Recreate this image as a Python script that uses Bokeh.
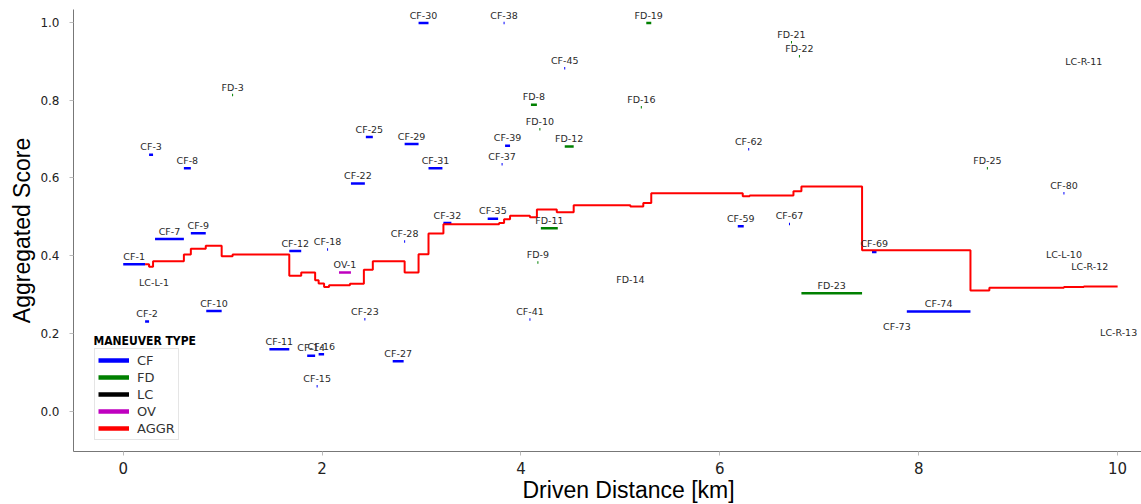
from bokeh.plotting import figure
from bokeh.models import (ColumnDataSource, Legend, LegendItem, Label, FixedTicker,
                          PrintfTickFormatter, Range1d, Title)
from bokeh.core.properties import value
from bokeh.embed import file_html
from bokeh.resources import INLINE

# ---------------- data ----------------
cf_names = ["CF-1", "CF-2", "CF-3", "CF-7", "CF-8", "CF-9", "CF-10", "CF-11", "CF-12",
            "CF-14", "CF-15", "CF-16", "CF-18", "CF-22", "CF-23", "CF-25", "CF-27",
            "CF-28", "CF-29", "CF-30", "CF-31", "CF-32", "CF-35", "CF-37", "CF-38",
            "CF-39", "CF-41", "CF-45", "CF-59", "CF-62", "CF-67", "CF-69", "CF-73",
            "CF-74", "CF-80"]
cf_start = [0.00, 0.22, 0.26, 0.32, 0.61, 0.68, 0.835, 1.47, 1.67,
            1.85, 1.945, 1.965, 2.05, 2.29, 2.425, 2.44, 2.71,
            2.825, 2.83, 2.97, 3.07, 3.22, 3.665, 3.805, 3.825,
            3.84, 4.085, 4.435, 6.18, 6.285, 6.695, 7.53, 7.78,
            7.88, 9.455]
cf_end = [0.22, 0.26, 0.30, 0.61, 0.68, 0.83, 0.99, 1.67, 1.79,
          1.93, 1.955, 2.02, 2.06, 2.43, 2.435, 2.51, 2.82,
          2.835, 2.97, 3.07, 3.21, 3.30, 3.77, 3.815, 3.835,
          3.89, 4.095, 4.445, 6.24, 6.295, 6.705, 7.575, 7.78,
          8.52, 9.465]
cf_score = [0.378, 0.231, 0.660, 0.443, 0.625, 0.458, 0.258, 0.160, 0.412,
            0.143, 0.065, 0.147, 0.416, 0.586, 0.237, 0.705, 0.129,
            0.437, 0.687, 0.998, 0.625, 0.484, 0.495, 0.635, 0.998,
            0.683, 0.236, 0.882, 0.476, 0.674, 0.482, 0.410, 0.197,
            0.257, 0.561]

fd_names = ["FD-3", "FD-8", "FD-9", "FD-10", "FD-11", "FD-12", "FD-14", "FD-16",
            "FD-19", "FD-21", "FD-22", "FD-23", "FD-25"]
fd_start = [1.095, 4.10, 4.165, 4.185, 4.20, 4.44, 5.10, 5.205, 5.26, 6.715, 6.795, 6.82, 8.685]
fd_end = [1.105, 4.16, 4.175, 4.195, 4.37, 4.53, 5.10, 5.215, 5.31, 6.725, 6.805, 7.43, 8.695]
fd_score = [0.813, 0.788, 0.383, 0.725, 0.471, 0.681, 0.319, 0.782, 0.998, 0.949, 0.913, 0.304, 0.625]

lc_names = ["LC-L-1", "LC-L-10", "LC-R-11", "LC-R-12", "LC-R-13"]
lc_start = [0.31, 9.46, 9.66, 9.72, 10.01]
lc_end = [0.31, 9.46, 9.66, 9.72, 10.01]
lc_score = [0.311, 0.382, 0.878, 0.352, 0.183]

ov_names = ["OV-1"]
ov_start = [2.17]
ov_end = [2.29]
ov_score = [0.357]

aggr_x = [0.22, 0.26, 0.30, 0.61, 0.68, 0.83, 0.99, 1.10, 1.67, 1.79, 1.93, 1.965,
          2.02, 2.07, 2.28, 2.42, 2.51, 2.83, 2.97, 3.07, 3.22, 3.78, 3.83, 3.89,
          4.09, 4.16, 4.36, 4.53, 5.10, 5.23, 5.31, 6.23, 6.30, 6.74, 6.82, 7.43,
          8.52, 8.71, 9.46, 9.66, 10.0]
aggr_y = [0.378, 0.372, 0.386, 0.403, 0.418, 0.426, 0.399, 0.403, 0.349, 0.357, 0.337, 0.329,
          0.320, 0.324, 0.328, 0.364, 0.386, 0.357, 0.404, 0.457, 0.481, 0.484, 0.494, 0.503,
          0.499, 0.519, 0.512, 0.530, 0.527, 0.536, 0.561, 0.553, 0.555, 0.566, 0.578, 0.414,
          0.311, 0.318, 0.320, 0.321, 0.321]

x_ticks = [0, 2, 4, 6, 8, 10]
y_ticks = [0.0, 0.2, 0.4, 0.6, 0.8, 1.0]

type_labels = ["CF", "FD", "LC", "OV", "AGGR"]
type_colors = ["#0000ff", "#008000", "#000000", "#bf00bf", "#ff0000"]

# ---------------- figure ----------------
p = figure(width=1141, height=504, output_backend="svg", toolbar_location=None,
           x_range=Range1d(-0.50, 10.24), y_range=Range1d(-0.103, 1.033),
           min_border_left=73, min_border_right=0, min_border_top=9, min_border_bottom=53)
p.outline_line_color = None
p.xgrid.visible = False
p.ygrid.visible = False
p.background_fill_color = "white"
p.border_fill_color = "white"

for ax in (p.xaxis[0], p.yaxis[0]):
    ax.axis_line_color = "#777777"
    ax.axis_line_width = 1
    ax.major_tick_line_color = "#bbbbbb"
    ax.major_tick_out = 4
    ax.major_tick_in = 0
    ax.minor_tick_line_color = None
    ax.major_label_text_color = "#222222"
    ax.major_label_text_font = "DejaVu Sans"

p.xaxis.ticker = FixedTicker(ticks=x_ticks)
p.yaxis.ticker = FixedTicker(ticks=y_ticks)
p.xaxis.formatter = PrintfTickFormatter(format="%d")
p.yaxis.formatter = PrintfTickFormatter(format="%.1f")
p.xaxis.major_label_text_font_size = "15px"
p.yaxis.major_label_text_font_size = "12px"
p.xaxis.major_label_standoff = 6
p.yaxis.major_label_standoff = 10

groups = [
    (cf_names, cf_start, cf_end, cf_score, type_colors[0]),
    (fd_names, fd_start, fd_end, fd_score, type_colors[1]),
    (lc_names, lc_start, lc_end, lc_score, type_colors[2]),
    (ov_names, ov_start, ov_end, ov_score, type_colors[3]),
]
sources = []
for names, st, en, sc, col in groups:
    src = ColumnDataSource(dict(name=names, start=st, end=en, score=sc,
                                mid=[(a + b) / 2 for a, b in zip(st, en)]))
    sources.append(src)
    p.segment(x0="start", y0="score", x1="end", y1="score", source=src,
              line_color=col, line_width=2.5)

p.step(x=aggr_x, y=aggr_y, mode="after", line_color=type_colors[4], line_width=2)

for src in sources:
    p.text(x="mid", y="score", text="name", source=src, text_align="center",
           text_baseline="middle", y_offset=-8, text_font=value("DejaVu Sans"),
           text_font_size="9.5px", text_color="#2a2a2a")

# legend with proxy renderers (thicker lines, no visible data)
nan = float("nan")
items = []
for lab, col in zip(type_labels, type_colors):
    r = p.line(x=[nan, nan], y=[nan, nan], line_color=col, line_width=4.5)
    items.append(LegendItem(label=lab, renderers=[r]))
legend = Legend(items=items, location=(21, 11), orientation="vertical",
                glyph_width=31, glyph_height=16, label_height=16, spacing=1,
                padding=3, margin=0, label_standoff=8,
                label_text_font="DejaVu Sans", label_text_font_size="13px",
                label_text_color="#333333",
                border_line_color="#cccccc", border_line_width=1,
                background_fill_color="white", background_fill_alpha=0.9)
p.add_layout(legend)

p.add_layout(Label(x=-0.30, y=0.18, text="MANEUVER TYPE", text_align="left",
                   text_baseline="middle", text_font="DejaVu Sans Condensed",
                   text_font_style="bold", text_font_size="12px", text_color="#000000"))

# axis titles
p.add_layout(Title(text="Driven Distance [km]", align="left", offset=449, standoff=-4,
                   text_font="Liberation Sans", text_font_size="23px",
                   text_font_style="normal", text_color="#000000"), "below")
p.add_layout(Title(text="Aggregated Score", align="center", offset=0, standoff=6,
                   text_font="Liberation Sans", text_font_size="23px",
                   text_font_style="normal", text_color="#000000"), "left")

open("out.html", "w").write(file_html(p, INLINE))
